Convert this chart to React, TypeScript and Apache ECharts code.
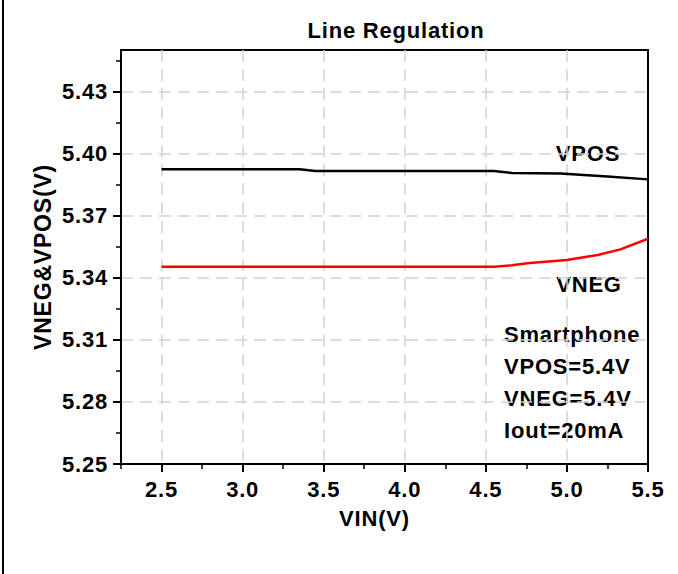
import React, { useEffect, useRef } from "react";
import * as echarts from "echarts";

// ---- data ----
const vposX = [2.5, 3.0, 3.35, 3.45, 4.0, 4.55, 4.66, 4.96, 5.25, 5.5];
const vposY = [5.3924, 5.3924, 5.3924, 5.3915, 5.3915, 5.3915, 5.3906, 5.3903, 5.3889, 5.3875];
const vnegX = [2.5, 3.0, 3.5, 4.0, 4.55, 4.66, 4.77, 5.0, 5.19, 5.33, 5.5];
const vnegY = [5.3453, 5.3453, 5.3453, 5.3453, 5.3453, 5.3460, 5.3471, 5.3486, 5.3510, 5.3537, 5.3588];

const xMajorTicks = [2.5, 3.0, 3.5, 4.0, 4.5, 5.0, 5.5];
const xMinorTicks = [2.25, 2.75, 3.25, 3.75, 4.25, 4.75, 5.25];
const xGridLines = [2.5, 3.0, 3.5, 4.0, 4.5, 5.0];
const yMajorTicks = [5.25, 5.28, 5.31, 5.34, 5.37, 5.40, 5.43];
const yMinorTicks = [5.265, 5.295, 5.325, 5.355, 5.385, 5.415, 5.445];
const yGridLines = [5.28, 5.31, 5.34, 5.37, 5.40, 5.43];

const titleText = "Line Regulation";
const xName = "VIN(V)";
const yName = "VNEG&VPOS(V)";
const seriesNames = ["VPOS", "VNEG"];
const noteLines = ["Smartphone", "VPOS=5.4V", "VNEG=5.4V", "Iout=20mA"];

const FONT = '"Liberation Sans", Arial, sans-serif';

export default function App() {
  const ref = useRef<HTMLDivElement>(null);

  useEffect(() => {
    if (!ref.current) return;
    const chart = echarts.init(ref.current, null, { renderer: "svg" });
    const tickLine = { color: "#000", width: 2 };
    const minorLine = { color: "#000", width: 1.5 };
    const gridLine = { color: "#d2d2d2", width: 1.5, type: [12, 7] as any };
    const labelStyle = { color: "#000", fontFamily: FONT, fontSize: 22, fontWeight: "bold" as const };

    const xRange = { type: "value", min: 2.25, max: 5.5, position: "bottom" };
    const yRange = { type: "value", min: 5.25, max: 5.45, position: "left" };

    const option: any = {
      animation: false,
      backgroundColor: "#ffffff",
      title: {
        text: titleText,
        left: 396,
        top: 19,
        padding: 0,
        textAlign: "center",
        textStyle: { color: "#000", fontFamily: FONT, fontSize: 22, fontWeight: "bold" },
      },
      grid: {
        left: 121,
        right: 30,
        top: 50,
        bottom: 110,
        show: true,
        borderColor: "#000",
        borderWidth: 2,
        backgroundColor: "transparent",
      },
      xAxis: [
        {
          ...xRange,
          axisLine: { show: false, onZero: false },
          axisTick: { show: false, customValues: xGridLines },
          axisLabel: { show: false },
          splitLine: { show: true, lineStyle: gridLine },
        },
        {
          ...xRange,
          name: xName,
          nameLocation: "middle",
          nameGap: 43,
          nameTextStyle: { ...labelStyle, padding: [0, 20, 0, 0] },
          axisLine: { show: true, onZero: false, lineStyle: tickLine },
          axisTick: { show: true, inside: false, length: 8, customValues: xMajorTicks, lineStyle: tickLine },
          axisLabel: {
            customValues: xMajorTicks,
            formatter: (v: number) => v.toFixed(1),
            margin: 14,
            ...labelStyle,
          },
          splitLine: { show: false },
        },
        {
          ...xRange,
          axisLine: { show: false, onZero: false },
          axisTick: { show: true, inside: false, length: 5, customValues: xMinorTicks, lineStyle: minorLine },
          axisLabel: { show: false },
          splitLine: { show: false },
        },
      ],
      yAxis: [
        {
          ...yRange,
          axisLine: { show: false, onZero: false },
          axisTick: { show: false, customValues: yGridLines },
          axisLabel: { show: false },
          splitLine: { show: true, lineStyle: gridLine },
        },
        {
          ...yRange,
          name: yName,
          nameLocation: "middle",
          nameGap: 65,
          nameTextStyle: { ...labelStyle, fontSize: 23 },
          axisLine: { show: true, onZero: false, lineStyle: tickLine },
          axisTick: { show: true, inside: false, length: 8, customValues: yMajorTicks, lineStyle: tickLine },
          axisLabel: {
            customValues: yMajorTicks,
            formatter: (v: number) => v.toFixed(2),
            margin: 13,
            ...labelStyle,
          },
          splitLine: { show: false },
        },
        {
          ...yRange,
          axisLine: { show: false, onZero: false },
          axisTick: { show: true, inside: false, length: 5, customValues: yMinorTicks, lineStyle: minorLine },
          axisLabel: { show: false },
          splitLine: { show: false },
        },
      ],
      series: [
        {
          name: seriesNames[0],
          type: "line",
          xAxisIndex: 1,
          yAxisIndex: 1,
          data: vposX.map((x, i) => [x, vposY[i]]),
          symbol: "none",
          lineStyle: { color: "#000000", width: 2.5 },
          itemStyle: { color: "#000000" },
        },
        {
          name: seriesNames[1],
          type: "line",
          xAxisIndex: 1,
          yAxisIndex: 1,
          data: vnegX.map((x, i) => [x, vnegY[i]]),
          symbol: "none",
          lineStyle: { color: "#ff0000", width: 2.5 },
          itemStyle: { color: "#ff0000" },
        },
      ],
      graphic: [
        {
          type: "line",
          shape: { x1: 3, y1: 0, x2: 3, y2: 574 },
          style: { stroke: "#000", lineWidth: 2 },
        },
        {
          type: "text",
          x: 588,
          y: 153,
          style: { text: seriesNames[0], align: "center", verticalAlign: "middle", fill: "#000", fontFamily: FONT, fontSize: 22, fontWeight: "bold" },
        },
        {
          type: "text",
          x: 589,
          y: 284,
          style: { text: seriesNames[1], align: "center", verticalAlign: "middle", fill: "#000", fontFamily: FONT, fontSize: 22, fontWeight: "bold" },
        },
        {
          type: "text",
          x: 504,
          y: 318,
          style: {
            text: noteLines.join("\n"),
            align: "left",
            verticalAlign: "top",
            lineHeight: 32,
            fill: "#000",
            fontFamily: FONT,
            fontSize: 22,
            fontWeight: "bold",
          },
        },
      ],
    };
    chart.setOption(option);
    return () => chart.dispose();
  }, []);

  return (
    <>
      <style>{`.lr-chart text { letter-spacing: 0.8px; }`}</style>
      <div
        ref={ref}
        className="lr-chart"
        style={{ position: "absolute", left: 0, top: 0, width: 678, height: 574 }}
      />
    </>
  );
}
